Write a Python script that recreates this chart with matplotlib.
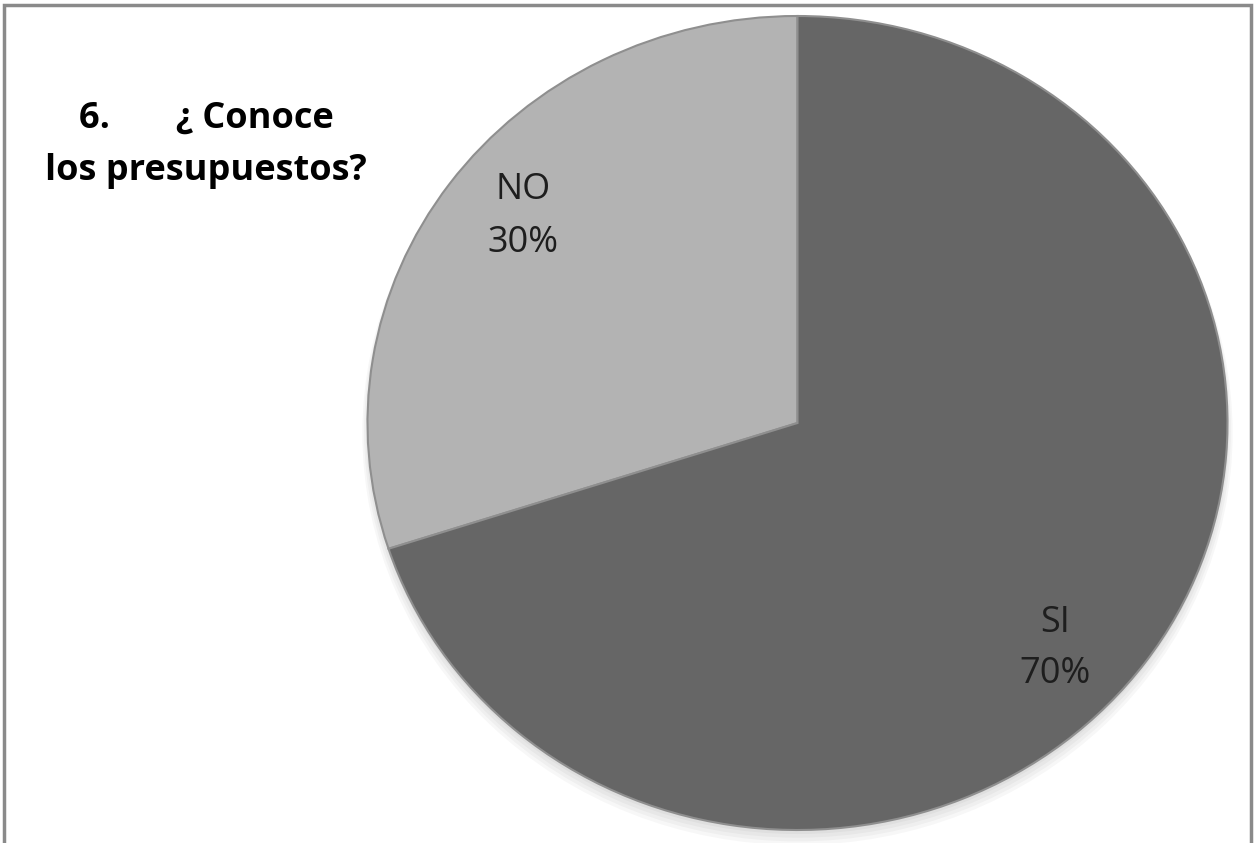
import matplotlib
matplotlib.use("Agg")
import matplotlib.pyplot as plt
from matplotlib.patches import Rectangle, Ellipse

categories = ["NO", "SI"]
values = [30, 70]
colors = ["#b3b3b3", "#666666"]
title_lines = ["6.       ¿ Conoce", "los presupuestos?"]

W, H = 1255, 843
fig = plt.figure(figsize=(W / 100, H / 100), dpi=100)

# frame
fig.patches.append(Rectangle((4 / W, -0.05), (1251 - 4) / W, (H - 5) / H + 0.05,
                             transform=fig.transFigure, fill=False,
                             edgecolor="#8a8a8a", linewidth=2.5, zorder=0))

cx, cy, rx, ry = 797.5, 423, 430, 407
ax = fig.add_axes([(cx - rx) / W, (H - cy - ry) / H, 2 * rx / W, 2 * ry / H])
ax.set_xlim(-1, 1)
ax.set_ylim(-1, 1)

# soft shadow
for i in range(4):
    sh = Ellipse((0.0, -0.010 - 0.005 * i), 2.0 + 0.008 * i, 2.0 + 0.008 * i,
                 facecolor="black", alpha=0.03, edgecolor="none", clip_on=False)
    ax.add_patch(sh)

wedges, texts = ax.pie(values, colors=colors, startangle=90, counterclock=True,
                       radius=1.0, frame=False,
                       wedgeprops=dict(edgecolor="#8f8f8f", linewidth=1.5))
for w in wedges:
    w.set_clip_on(False)
ax.set_aspect("auto")
ax.set_xlim(-1, 1)
ax.set_ylim(-1, 1)
ax.axis("off")


def fx(px):
    return (px - cx) / rx


def fy(py):
    return (cy - py) / ry


label_pos = {"NO": (523, 199, 252), "SI": (1055, 632, 683)}
for lab, v in zip(categories, values):
    x, y1, y2 = label_pos[lab]
    ax.text(fx(x), fy(y1), lab, ha="center", va="baseline",
            fontsize=26, color="#1e1e1e", family="Open Sans")
    ax.text(fx(x), fy(y2), f"{v}%", ha="center", va="baseline",
            fontsize=26, color="#1e1e1e", family="Open Sans")

for line, yb in zip(title_lines, [128, 180]):
    fig.text(206 / W, 1 - yb / H, line, ha="center", va="baseline", fontsize=26,
             fontweight="bold", family="Open Sans", color="black")

fig.savefig("out.png", dpi=100, facecolor="white")
